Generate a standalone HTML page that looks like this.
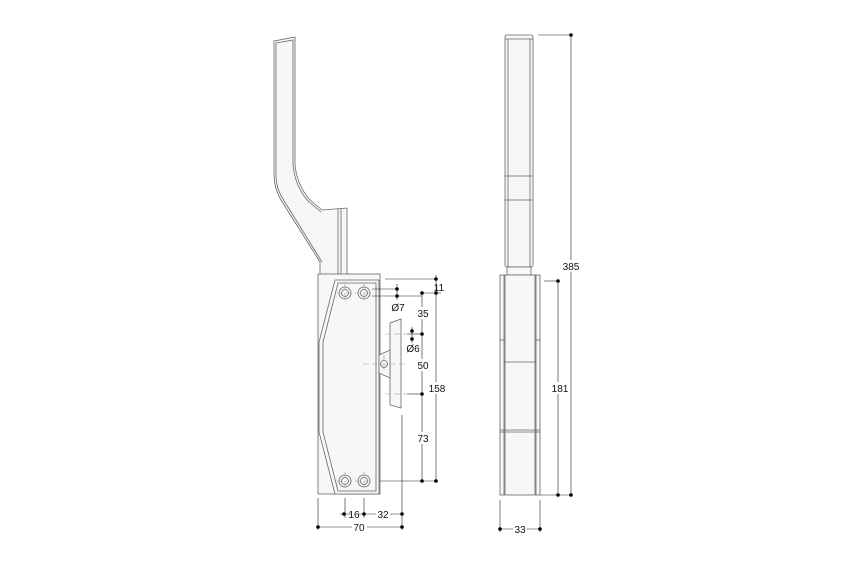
<!DOCTYPE html>
<html><head><style>
html,body{margin:0;padding:0;background:#fff;}
svg{display:block;}
text{font-family:"Liberation Sans",sans-serif;font-size:10px;fill:#111;text-anchor:middle;}
</style></head><body>
<svg width="850" height="567" viewBox="0 0 850 567" xmlns="http://www.w3.org/2000/svg">
<g fill="#f7f7f7" stroke="#666" stroke-width="0.8">
<!-- handle -->
<path d="M274,41 L295,37 L295,165 Q297,185 310,200 L322,210 L347,208 L347,275 L320,275 L320,262 L281,200 Q274,188 274,175 Z"/>
<path d="M276,43 L293,40 L293,165 Q295,186 308,201 L321,212 M276,43 L276,175 Q276,188 283,199 L322,262" fill="none"/>
<line x1="338" y1="209" x2="338" y2="275"/><line x1="341" y1="209" x2="341" y2="275"/>
<!-- body -->
<rect x="318" y="274" width="62" height="220"/>
<path d="M335,280 L379,280 L379,494 L335,494 L319,432 L319,342 Z"/>
<path d="M338,283 L376,283 L376,491 L338,491 L323,432 L323,342 Z" fill="none"/>
<circle cx="345" cy="293" r="6"/><circle cx="345" cy="293" r="3.5" fill="none"/>
<circle cx="364" cy="293" r="6"/><circle cx="364" cy="293" r="3.5" fill="none"/>
<circle cx="345" cy="481" r="6"/><circle cx="345" cy="481" r="3.5" fill="none"/>
<circle cx="364" cy="481" r="6"/><circle cx="364" cy="481" r="3.5" fill="none"/>
<!-- latch -->
<path d="M390,323 L401,319 L401,408 L390,405 Z"/>
<path d="M379,355 L390,350 L390,378 L379,373 Z"/>
<circle cx="384" cy="364" r="3.5"/>
<!-- side view -->
<rect x="505" y="35" width="28" height="232" rx="2"/>
<line x1="505" y1="39" x2="533" y2="39"/>
<line x1="508" y1="39" x2="508" y2="267"/><line x1="530" y1="39" x2="530" y2="267"/>
<line x1="505" y1="176" x2="533" y2="176"/><line x1="505" y1="200" x2="533" y2="200"/>
<rect x="507" y="267" width="24" height="8"/>
<rect x="500" y="275" width="40" height="220"/>
<line x1="504" y1="275" x2="504" y2="495"/><line x1="536" y1="275" x2="536" y2="495"/>
<line x1="505" y1="275" x2="505" y2="495"/><line x1="535" y1="275" x2="535" y2="495"/>
<line x1="500" y1="340" x2="505" y2="340"/><line x1="535" y1="340" x2="540" y2="340"/>
<line x1="504" y1="362" x2="536" y2="362"/>
<line x1="500" y1="430" x2="540" y2="430"/><line x1="500" y1="432" x2="540" y2="432"/>
</g>
<!-- center lines -->
<g stroke="#999" stroke-width="0.6" stroke-dasharray="6,3" fill="none">
<line x1="337" y1="293" x2="372" y2="293"/><line x1="345" y1="284" x2="345" y2="302"/><line x1="364" y1="284" x2="364" y2="302"/>
<line x1="337" y1="481" x2="372" y2="481"/><line x1="345" y1="472" x2="345" y2="490"/><line x1="364" y1="472" x2="364" y2="490"/>
<line x1="363" y1="364" x2="407" y2="364"/><line x1="384" y1="355" x2="384" y2="373"/>
<line x1="385" y1="334" x2="407" y2="334"/><line x1="385" y1="394" x2="407" y2="394"/>
</g>
<!-- dimension lines -->
<g stroke="#222" stroke-width="0.6" fill="none">
<line x1="372" y1="289" x2="397" y2="289"/><line x1="372" y1="296" x2="422" y2="296"/>
<line x1="385" y1="279" x2="436" y2="279"/><line x1="422" y1="293" x2="441" y2="293"/>
<line x1="397" y1="284" x2="397" y2="300"/>
<line x1="422" y1="293" x2="422" y2="481"/><line x1="436" y1="275" x2="436" y2="481"/>
<line x1="407" y1="394" x2="422" y2="394"/><line x1="407" y1="334" x2="422" y2="334"/>
<line x1="412" y1="327" x2="412" y2="343"/>
<line x1="380" y1="481" x2="436" y2="481"/>
<line x1="402" y1="415" x2="402" y2="530"/>
<line x1="345" y1="498" x2="345" y2="518"/><line x1="364" y1="498" x2="364" y2="518"/>
<line x1="340" y1="514" x2="402" y2="514"/>
<line x1="318" y1="498" x2="318" y2="530"/><line x1="318" y1="527" x2="402" y2="527"/>
<line x1="538" y1="35" x2="571" y2="35"/><line x1="571" y1="35" x2="571" y2="495"/>
<line x1="544" y1="281" x2="558" y2="281"/><line x1="558" y1="281" x2="558" y2="495"/>
<line x1="540" y1="495" x2="571" y2="495"/>
<line x1="500" y1="500" x2="500" y2="532"/><line x1="540" y1="500" x2="540" y2="532"/>
<line x1="500" y1="529" x2="540" y2="529"/>
</g>
<g fill="#000">
<circle cx="436" cy="279" r="1.8"/><circle cx="436" cy="293" r="1.8"/><circle cx="422" cy="293" r="1.8"/>
<circle cx="397" cy="289" r="1.8"/><circle cx="397" cy="296" r="1.8"/>
<circle cx="422" cy="334" r="1.8"/><circle cx="422" cy="394" r="1.8"/><circle cx="422" cy="481" r="1.8"/><circle cx="436" cy="481" r="1.8"/>
<circle cx="412" cy="331" r="1.8"/><circle cx="412" cy="339" r="1.8"/>
<circle cx="344" cy="514" r="1.8"/><circle cx="364" cy="514" r="1.8"/><circle cx="402" cy="514" r="1.8"/>
<circle cx="318" cy="527" r="1.8"/><circle cx="402" cy="527" r="1.8"/>
<circle cx="571" cy="35" r="1.8"/><circle cx="571" cy="495" r="1.8"/><circle cx="558" cy="281" r="1.8"/><circle cx="558" cy="495" r="1.8"/>
<circle cx="500" cy="529" r="1.8"/><circle cx="540" cy="529" r="1.8"/>
</g>
<g stroke="#fff" stroke-width="8">
<line x1="351" y1="514" x2="358" y2="514"/><line x1="376" y1="514" x2="390" y2="514"/>
<line x1="352" y1="527" x2="367" y2="527"/><line x1="513" y1="529" x2="527" y2="529"/>
<line x1="422" y1="307" x2="422" y2="319"/><line x1="422" y1="359" x2="422" y2="371"/>
<line x1="422" y1="432" x2="422" y2="444"/><line x1="436" y1="382" x2="436" y2="394"/>
<line x1="558" y1="382" x2="558" y2="394"/><line x1="571" y1="260" x2="571" y2="272"/>
</g>
<text x="439" y="291">11</text>
<text x="398" y="311">Ø7</text>
<text x="423" y="317">35</text>
<text x="413" y="352">Ø6</text>
<text x="423" y="369">50</text>
<text x="437" y="392">158</text>
<text x="423" y="442">73</text>
<text x="354" y="518">16</text>
<text x="383" y="518">32</text>
<text x="359" y="531">70</text>
<text x="571" y="270">385</text>
<text x="560" y="392">181</text>
<text x="520" y="533">33</text>
</svg>
</body></html>
